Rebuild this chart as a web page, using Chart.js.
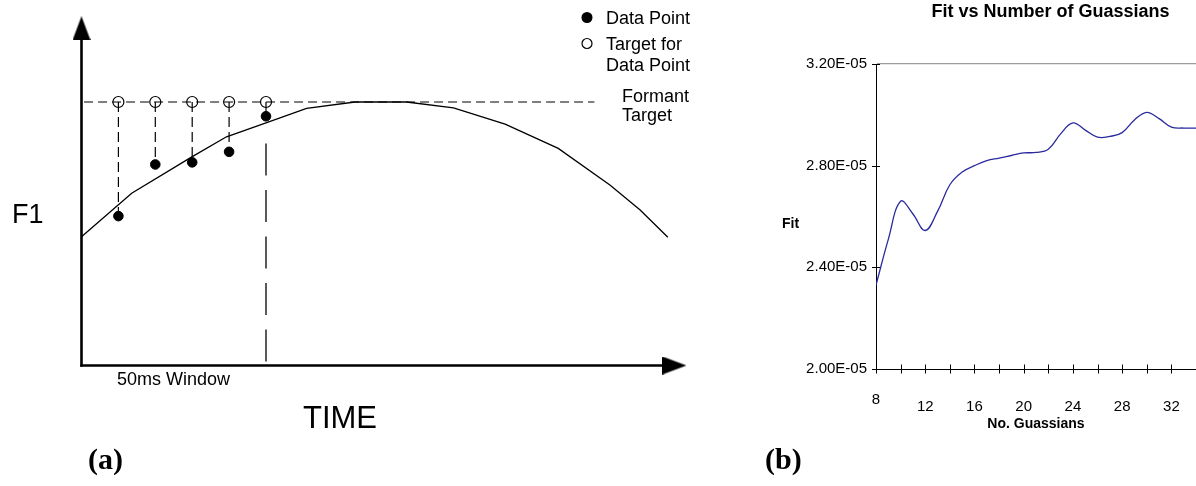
<!DOCTYPE html>
<html>
<head>
<meta charset="utf-8">
<script src="https://cdn.jsdelivr.net/npm/chart.js@4.4.1/dist/chart.umd.min.js"></script>
<style>
  html, body { margin: 0; padding: 0; background: #fff; overflow: hidden; }
  #wrap { position: relative; width: 1196px; height: 486px; }
  #formant { position: absolute; left: 0; top: 0; }
  #fit { position: absolute; left: 740px; top: 0; }
</style>
</head>
<body>
<div id="wrap">
  <canvas id="formant" width="720" height="486"></canvas>
  <canvas id="fit" width="456" height="486"></canvas>
</div>
<script>
// (a) formant tracking sketch: time in ms, F1 in arbitrary units (target = 100)
var sampleTimes = [10, 20, 30, 40, 50];
var dataPoints = [56.7, 76.3, 77.1, 81.1, 94.6];
var formantTarget = 100;
var curveTimes = [0, 13.6, 29.9, 39.3, 50, 61, 74.1, 88.1, 100.8, 114.8, 129.2, 143.2, 151.4, 158.9];
var curveF1 = [48.9, 65.4, 79.2, 86.8, 92.1, 97.6, 100, 100, 97.8, 91.6, 82.4, 68.5, 59.0, 48.7];
var windowEnd = 50;
var windowTop = 84.3;
var targetLineStart = 0.7;
var targetLineEnd = 139;
var timeAxisEnd = 160.7;
var f1AxisEnd = 128;

// (b) fit vs number of gaussians
var numGaussians = [8, 9, 10, 11, 12, 13, 14, 15, 16, 17, 18, 19, 20, 21, 22, 23, 24, 25, 26, 27, 28, 29, 30, 31, 32, 33, 34];
var fitValues = [2.33e-5, 2.51e-5, 2.66e-5, 2.61e-5, 2.545e-5, 2.62e-5, 2.725e-5, 2.775e-5, 2.80e-5, 2.82e-5,
  2.83e-5, 2.84e-5, 2.85e-5, 2.852e-5, 2.865e-5, 2.925e-5, 2.968e-5, 2.94e-5, 2.912e-5, 2.915e-5,
  2.93e-5, 2.98e-5, 3.01e-5, 2.985e-5, 2.952e-5, 2.948e-5, 2.948e-5];
var fitTicks = [2.0e-5, 2.4e-5, 2.8e-5, 3.2e-5];
var gaussTickLabels = ['8', '12', '16', '20', '24', '28', '32'];

var sans = '"Liberation Sans", Arial, sans-serif';
var serif = '"Liberation Serif", "Times New Roman", serif';

function pts(xs, ys) {
  return xs.map(function (x, i) { return {x: x, y: ys[i]}; });
}

function fmtSci(v) {
  var parts = v.toExponential(2).split('e');
  var n = parseInt(parts[1], 10);
  return parts[0] + 'E' + (n < 0 ? '-' : '+') + String(Math.abs(n)).padStart(2, '0');
}

// arrow head used as point style at the end of each axis
var arrow = document.createElement('canvas');
arrow.width = 18;
arrow.height = 24;
var actx = arrow.getContext('2d');
actx.fillStyle = '#000';
actx.beginPath();
actx.moveTo(9, 0);
actx.lineTo(18, 24);
actx.lineTo(0, 24);
actx.closePath();
actx.fill();

var stems = [];
sampleTimes.forEach(function (t, i) {
  stems.push({x: t, y: formantTarget}, {x: t, y: dataPoints[i]}, {x: t, y: null});
});

var sketchText = {
  id: 'sketchText',
  afterDraw: function (chart) {
    var c = chart.ctx;
    c.save();
    c.fillStyle = '#000';
    c.strokeStyle = '#000';
    c.textBaseline = 'alphabetic';
    c.textAlign = 'left';
    c.font = '27px ' + sans;
    c.fillText('F1', 12, 223);
    c.font = '18px ' + sans;
    c.fillText('50ms Window', 117, 385);
    c.font = '31px ' + sans;
    c.fillText('TIME', 303, 428);
    c.font = 'bold 30px ' + serif;
    c.fillText('(a)', 88, 469);

    // legend
    c.beginPath();
    c.arc(587, 17.5, 5.5, 0, Math.PI * 2);
    c.fill();
    c.lineWidth = 1.2;
    c.beginPath();
    c.arc(587, 43.5, 5, 0, Math.PI * 2);
    c.stroke();
    c.font = '18px ' + sans;
    c.fillText('Data Point', 606, 24);
    c.fillText('Target for', 606, 50);
    c.fillText('Data Point', 606, 70.5);
    c.fillText('Formant', 622, 102);
    c.fillText('Target', 622, 121);
    c.restore();
  }
};

new Chart(document.getElementById('formant'), {
  type: 'scatter',
  data: {
    datasets: [
      {
        label: 'Data Point',
        data: pts(sampleTimes, dataPoints),
        pointRadius: 4.8,
        pointBackgroundColor: '#000',
        pointBorderColor: '#000',
        pointBorderWidth: 1,
        order: 0
      },
      {
        label: 'Target for Data Point',
        data: sampleTimes.map(function (t) { return {x: t, y: formantTarget}; }),
        pointRadius: 5.5,
        pointBackgroundColor: 'rgba(0,0,0,0)',
        pointBorderColor: '#000',
        pointBorderWidth: 1.2,
        order: 1
      },
      {
        label: 'F1',
        data: pts(curveTimes, curveF1),
        showLine: true,
        borderColor: '#000',
        borderWidth: 1.3,
        pointRadius: 0,
        order: 2
      },
      {
        label: 'Formant Target',
        data: [{x: targetLineStart, y: formantTarget}, {x: targetLineEnd, y: formantTarget}],
        showLine: true,
        borderColor: '#000',
        borderWidth: 1.2,
        borderDash: [9, 5],
        pointRadius: 0,
        order: 3
      },
      {
        label: 'stems',
        data: stems,
        showLine: true,
        spanGaps: false,
        borderColor: '#000',
        borderWidth: 1.2,
        borderDash: [10, 5],
        pointRadius: 0,
        order: 4
      },
      {
        label: '50ms Window',
        data: [{x: windowEnd, y: windowTop}, {x: windowEnd, y: 0}],
        showLine: true,
        borderColor: '#000',
        borderWidth: 1.3,
        borderDash: [32, 14.5],
        pointRadius: 0,
        order: 5
      },
      {
        label: 'F1 axis',
        data: [{x: 0, y: 0}, {x: 0, y: f1AxisEnd}],
        showLine: true,
        borderColor: '#000',
        borderWidth: 2.6,
        borderCapStyle: 'square',
        pointRadius: [0, 12],
        pointStyle: arrow,
        order: 6
      },
      {
        label: 'TIME axis',
        data: [{x: 0, y: 0}, {x: timeAxisEnd, y: 0}],
        showLine: true,
        borderColor: '#000',
        borderWidth: 2.6,
        borderCapStyle: 'square',
        pointRadius: [0, 12],
        pointStyle: arrow,
        pointRotation: 90,
        order: 7
      }
    ]
  },
  options: {
    responsive: false,
    animation: false,
    events: [],
    layout: { autoPadding: false, padding: { left: 7.7, right: 11.2, top: 9.8, bottom: 67.8 } },
    plugins: { legend: { display: false }, tooltip: { enabled: false } },
    scales: {
      x: { type: 'linear', min: -20, max: 170, display: false },
      y: { type: 'linear', min: -20, max: 135, display: false }
    }
  },
  plugins: [sketchText]
});

var crossTicks = {
  id: 'crossTicks',
  afterDatasetsDraw: function (chart) {
    var c = chart.ctx, xs = chart.scales.x, ys = chart.scales.y;
    c.save();
    c.strokeStyle = '#000';
    c.lineWidth = 1;
    c.beginPath();
    xs.ticks.forEach(function (t) {
      var px = Math.round(xs.getPixelForValue(t.value)) + 0.5;
      c.moveTo(px, xs.top - 4.5);
      c.lineTo(px, xs.top + 4.5);
    });
    ys.ticks.forEach(function (t) {
      var py = Math.round(ys.getPixelForValue(t.value)) + 0.5;
      c.moveTo(ys.right - 4, py);
      c.lineTo(ys.right + 4, py);
    });
    c.stroke();
    c.restore();
  }
};

var fitText = {
  id: 'fitText',
  afterDraw: function (chart) {
    var c = chart.ctx;
    c.save();
    c.fillStyle = '#000';
    c.textBaseline = 'alphabetic';
    c.textAlign = 'center';
    c.font = 'bold 18px ' + sans;
    c.fillText('Fit vs Number of Guassians', 310.5, 17.3);
    c.textAlign = 'left';
    c.font = 'bold 14px ' + sans;
    c.fillText('Fit', 42, 228);
    c.font = 'bold 30px ' + serif;
    c.fillText('(b)', 25, 469);
    c.restore();
  }
};

new Chart(document.getElementById('fit'), {
  type: 'line',
  data: {
    datasets: [{
      label: 'Fit',
      data: pts(numGaussians, fitValues),
      borderColor: '#2a2a9e',
      borderWidth: 1.3,
      pointRadius: 0,
      tension: 0.4,
      fill: false
    }]
  },
  options: {
    responsive: false,
    animation: false,
    events: [],
    layout: { autoPadding: false, padding: { left: 0, right: 0, top: 64, bottom: 53.6 } },
    plugins: { legend: { display: false }, tooltip: { enabled: false } },
    scales: {
      x: {
        type: 'linear',
        min: 8,
        max: 34,
        afterFit: function (s) { s.height = 63.4; s.paddingLeft = 0; s.paddingRight = 0; },
        border: { display: true, color: '#000', width: 1 },
        grid: { display: false, drawTicks: false },
        ticks: {
          stepSize: 2,
          autoSkip: false,
          maxRotation: 0,
          minRotation: 0,
          padding: 27.6,
          color: '#000',
          font: { family: sans, size: 15, lineHeight: '7px' },
          callback: function (v) {
            var s = String(v);
            if (gaussTickLabels.indexOf(s) < 0) return '';
            return s === gaussTickLabels[0] ? s : ['', s];
          }
        },
        title: {
          display: true,
          text: 'No. Guassians',
          color: '#000',
          padding: 0,
          font: { family: sans, size: 14, weight: 'bold' }
        }
      },
      y: {
        min: 2.0e-5,
        max: 3.2e-5,
        afterFit: function (s) { s.width = 136; },
        afterBuildTicks: function (s) { s.ticks = fitTicks.map(function (v) { return {value: v}; }); },
        border: { display: true, color: '#000', width: 1 },
        grid: {
          drawTicks: false,
          lineWidth: 1.3,
          color: function (ctx) {
            return ctx.tick && Math.abs(ctx.tick.value - 3.2e-5) < 1e-9 ? '#9c9c9c' : 'rgba(0,0,0,0)';
          }
        },
        ticks: {
          padding: 9,
          color: '#000',
          font: { family: sans, size: 15 },
          callback: function (v) { return fmtSci(v); }
        }
      }
    }
  },
  plugins: [crossTicks, fitText]
});
</script>
</body>
</html>
